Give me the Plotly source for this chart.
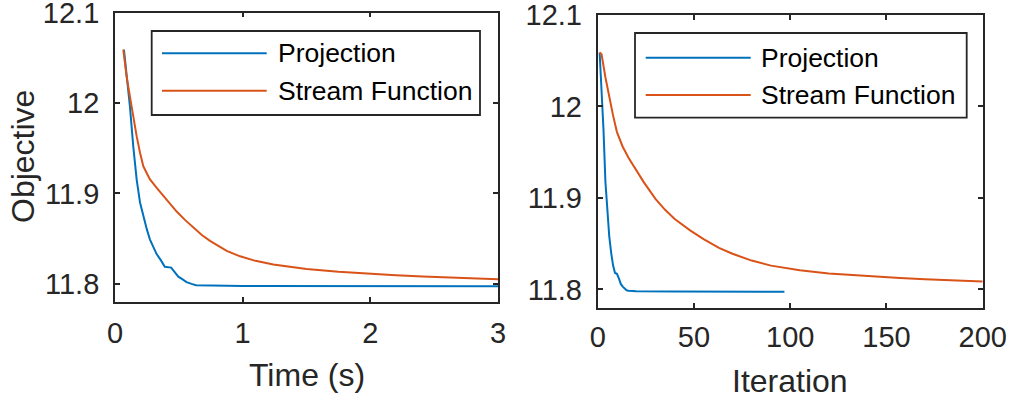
import plotly.graph_objects as go

# ─── Données ──────────────────────────────────────────────────────────────────
proj_time = [0.07, 0.091, 0.117, 0.143, 0.17, 0.196, 0.222, 0.25, 0.274, 0.3, 0.326,
             0.36, 0.39, 0.44, 0.47, 0.496, 0.53, 0.56, 0.6, 0.634, 1.0, 1.5, 2.0,
             2.5, 3.0, 3.2]
proj_time_obj = [12.059, 12.033, 11.996, 11.952, 11.915, 11.89, 11.875, 11.86, 11.849,
                 11.84, 11.833, 11.826, 11.819, 11.818, 11.812, 11.808, 11.805, 11.802,
                 11.8, 11.7985, 11.7978, 11.7977, 11.7976, 11.7976, 11.7975, 11.7975]

stream_time = [0.065, 0.09, 0.117, 0.143, 0.17, 0.196, 0.222, 0.25, 0.274, 0.33, 0.378,
               0.43, 0.483, 0.55, 0.613, 0.68, 0.744, 0.81, 0.875, 0.98, 1.1, 1.24,
               1.5, 1.75, 2.0, 2.2, 2.41, 2.7, 3.0, 3.1]
stream_time_obj = [12.059, 12.03, 12.007, 11.983, 11.963, 11.945, 11.930, 11.922, 11.9155,
                   11.9055, 11.8975, 11.889, 11.880, 11.8705, 11.862, 11.854, 11.8475,
                   11.8415, 11.8365, 11.8305, 11.8255, 11.8215, 11.8165, 11.8135, 11.8112,
                   11.8097, 11.8083, 11.8066, 11.805, 11.8045]

proj_iter = [1, 2, 3, 4, 5, 6, 7, 8, 9, 10, 11, 12, 13, 14, 15, 16, 20, 40, 60, 80, 97]
proj_iter_obj = [12.059, 12.02, 11.975, 11.918, 11.882, 11.858, 11.84, 11.826, 11.818,
                 11.817, 11.812, 11.806, 11.803, 11.8005, 11.799, 11.7985, 11.798,
                 11.7978, 11.7977, 11.7976, 11.7975]

stream_iter = [1, 2, 4, 6, 8, 10, 13, 16, 19, 24, 30, 35, 40, 48, 55, 63, 70, 80, 90,
               105, 120, 131, 145, 157, 170, 183, 200]
stream_iter_obj = [12.059, 12.057, 12.032, 12.010, 11.990, 11.972, 11.956, 11.944, 11.934,
                   11.917, 11.899, 11.887, 11.877, 11.8645, 11.855, 11.8455, 11.839, 11.8315,
                   11.826, 11.821, 11.8175, 11.8158, 11.8138, 11.8125, 11.8112, 11.8100,
                   11.8087]

y_ticks = [11.8, 11.9, 12.0, 12.1]
y_ticktext = ["11.8", "11.9", "12", "12.1"]
time_ticks = [0, 1, 2, 3]
iter_ticks = [0, 50, 100, 150, 200]
legend_names = ["Projection", "Stream Function"]

# ─── Style MATLAB ─────────────────────────────────────────────────────────────
BLUE = "#0072BD"
ORANGE = "#D95319"
AXC = "#262626"
FONT = "Liberation Sans, Arial, sans-serif"
W, H = 1010, 396
LW = 2


def px(x):
    return x / W


def py(y):
    return 1 - y / H


fig = go.Figure()
fig.add_trace(go.Scatter(x=proj_time, y=proj_time_obj, mode="lines",
                         line=dict(color=BLUE, width=LW), xaxis="x", yaxis="y"))
fig.add_trace(go.Scatter(x=stream_time, y=stream_time_obj, mode="lines",
                         line=dict(color=ORANGE, width=LW), xaxis="x", yaxis="y"))
fig.add_trace(go.Scatter(x=proj_iter, y=proj_iter_obj, mode="lines",
                         line=dict(color=BLUE, width=LW), xaxis="x2", yaxis="y2"))
fig.add_trace(go.Scatter(x=stream_iter, y=stream_iter_obj, mode="lines",
                         line=dict(color=ORANGE, width=LW), xaxis="x2", yaxis="y2"))

common = dict(showline=True, linecolor=AXC, linewidth=1.8, mirror="ticks",
              ticks="inside", ticklen=5, tickwidth=1.5, tickcolor=AXC,
              showgrid=False, zeroline=False, ticklabeloverflow="allow",
              automargin=False,
              tickfont=dict(family=FONT, size=29, color=AXC))

fig.update_layout(
    width=W, height=H,
    margin=dict(l=0, r=0, t=0, b=0, autoexpand=False),
    plot_bgcolor="white", paper_bgcolor="white",
    showlegend=False,
    xaxis=dict(domain=[px(115), px(498)], range=[0, 3], tickvals=time_ticks,
               anchor="y", ticklabelstandoff=4, **common),
    yaxis=dict(domain=[py(302), py(12.5)], range=[11.78, 12.1], tickvals=y_ticks,
               ticktext=y_ticktext, anchor="x", ticklabelstandoff=8, **common),
    xaxis2=dict(domain=[px(597.7), px(982.7)], range=[0, 200], tickvals=iter_ticks,
                anchor="y2", ticklabelstandoff=3, **common),
    yaxis2=dict(domain=[py(307.7), py(15)], range=[11.78, 12.1], tickvals=y_ticks,
                ticktext=y_ticktext, anchor="x2", ticklabelstandoff=8, **common),
)

# titres d'axes
titles = [("Objective", 23, 157, -90), ("Time (s)", 306.5, 375, 0), ("Iteration", 790, 381, 0)]
for txt, x, y, ang in titles:
    fig.add_annotation(text=txt, x=px(x), y=py(y), xref="paper", yref="paper",
                       showarrow=False, textangle=ang, xanchor="center", yanchor="middle",
                       font=dict(family=FONT, size=32, color=AXC))

# légendes dessinées à la main (échantillons de trait longs comme MATLAB)
legends = [
    dict(box=(151.7, 31, 480, 115), line=(162, 266.7), ys=(53.3, 90.7), tx=275.7),
    dict(box=(635, 33, 966.7, 117.7), line=(645.7, 750.7), ys=(57.7, 95), tx=759.3),
]
for lg in legends:
    x0, y0, x1, y1 = lg["box"]
    fig.add_shape(type="rect", xref="paper", yref="paper", x0=px(x0), x1=px(x1),
                  y0=py(y1), y1=py(y0), line=dict(color=AXC, width=1.8),
                  fillcolor="white", layer="above")
    for name, col, yy in zip(legend_names, [BLUE, ORANGE], lg["ys"]):
        fig.add_shape(type="line", xref="paper", yref="paper", x0=px(lg["line"][0]),
                      x1=px(lg["line"][1]), y0=py(yy), y1=py(yy),
                      line=dict(color=col, width=LW), layer="above")
        fig.add_annotation(text=name, x=px(lg["tx"]), y=py(yy), xref="paper", yref="paper",
                           showarrow=False, xanchor="left", yanchor="middle",
                           font=dict(family=FONT, size=26.5, color="black"))

fig.write_html("out.html", config={"displayModeBar": False},
               post_script="document.body.style.margin='0';")
